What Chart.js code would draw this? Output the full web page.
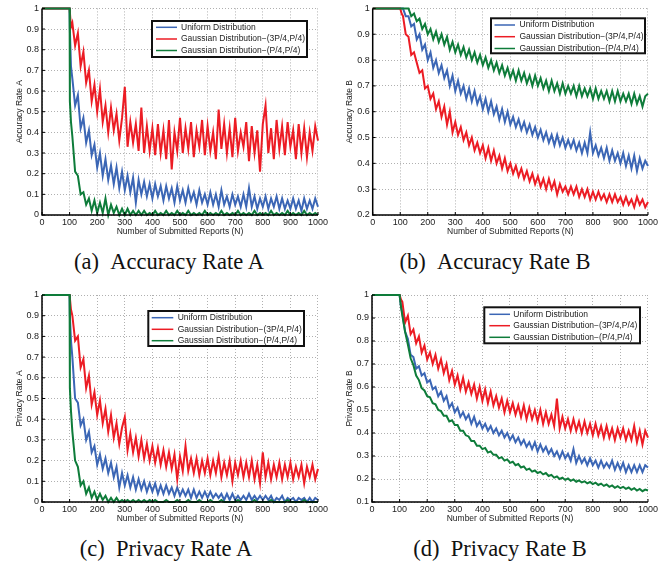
<!DOCTYPE html>
<html>
<head>
<meta charset="utf-8">
<script src="https://cdn.jsdelivr.net/npm/chart.js@4.4.1/dist/chart.umd.min.js"></script>
<style>
  body { margin: 0; background: #fff; width: 662px; height: 563px; position: relative; overflow: hidden; }
  .panel { position: absolute; width: 330px; }
  .cap { position: absolute; font-family: "Liberation Serif", serif; font-size: 22.5px; line-height: 26px;
         color: #111; white-space: nowrap; transform: translateX(-50%); }
</style>
</head>
<body>
<div class="panel" style="left:0;top:0;height:240px"><canvas id="accA"></canvas></div>
<div class="panel" style="left:330px;top:0;height:240px"><canvas id="accB"></canvas></div>
<div class="panel" style="left:0;top:280px;height:247px"><canvas id="privA"></canvas></div>
<div class="panel" style="left:330px;top:280px;height:247px"><canvas id="privB"></canvas></div>
<div class="cap" style="left:169px;top:249px">(a)&ensp;Accuracy Rate A</div>
<div class="cap" style="left:495px;top:249px">(b)&ensp;Accuracy Rate B</div>
<div class="cap" style="left:166px;top:536px">(c)&ensp;Privacy Rate A</div>
<div class="cap" style="left:500px;top:536px">(d)&ensp;Privacy Rate B</div>
<script>
// number of submitted reports (x values)
const reports = [0, 100, 101, 105,
  110, 120, 130, 140, 150, 160, 170, 180, 190, 200,
  210, 220, 230, 240, 250, 260, 270, 280, 290, 300,
  310, 320, 330, 340, 350, 360, 370, 380, 390, 400,
  410, 420, 430, 440, 450, 460, 470, 480, 490, 500,
  510, 520, 530, 540, 550, 560, 570, 580, 590, 600,
  610, 620, 630, 640, 650, 660, 670, 680, 690, 700,
  710, 720, 730, 740, 750, 760, 770, 780, 790, 800,
  810, 820, 830, 840, 850, 860, 870, 880, 890, 900,
  910, 920, 930, 940, 950, 960, 970, 980, 990, 1000];

const xTicks = [0, 100, 200, 300, 400, 500, 600, 700, 800, 900, 1000];
const yTicksFrom0 = [0, 0.1, 0.2, 0.3, 0.4, 0.5, 0.6, 0.7, 0.8, 0.9, 1];
const yTicksFrom02 = [0.2, 0.3, 0.4, 0.5, 0.6, 0.7, 0.8, 0.9, 1];
const yTicksFrom01 = [0.1, 0.2, 0.3, 0.4, 0.5, 0.6, 0.7, 0.8, 0.9, 1];

const seriesNames = ['Uniform Distribution', 'Gaussian Distribution\u2212(3P/4,P/4)', 'Gaussian Distribution\u2212(P/4,P/4)'];
const seriesColors = ['#3b66b5', '#ec1c24', '#0e7c3a'];

// (a) accuracy rate A
const accAUniform = [1, 1, 0.90, 0.72,
  0.66, 0.53, 0.58, 0.42, 0.47, 0.35, 0.41, 0.29, 0.34, 0.23,
  0.30, 0.19, 0.27, 0.17, 0.24, 0.15, 0.23, 0.13, 0.21, 0.12,
  0.19, 0.11, 0.18, 0.06, 0.17, 0.10, 0.16, 0.09, 0.15, 0.08,
  0.15, 0.09, 0.14, 0.07, 0.14, 0.08, 0.13, 0.06, 0.14, 0.07,
  0.12, 0.06, 0.13, 0.07, 0.11, 0.05, 0.12, 0.06, 0.10, 0.05,
  0.11, 0.05, 0.10, 0.04, 0.12, 0.05, 0.09, 0.04, 0.10, 0.05,
  0.09, 0.04, 0.10, 0.04, 0.13, 0.04, 0.09, 0.03, 0.08, 0.04,
  0.09, 0.03, 0.08, 0.04, 0.09, 0.03, 0.08, 0.03, 0.07, 0.03,
  0.08, 0.03, 0.07, 0.02, 0.08, 0.03, 0.07, 0.03, 0.08, 0.04];
const accAGauss3 = [1, 1, 1.00, 0.91,
  0.93, 0.82, 0.88, 0.72, 0.79, 0.64, 0.70, 0.55, 0.63, 0.50,
  0.61, 0.45, 0.53, 0.40, 0.52, 0.41, 0.49, 0.36, 0.47, 0.62,
  0.33, 0.45, 0.35, 0.44, 0.31, 0.52, 0.30, 0.43, 0.31, 0.42,
  0.29, 0.44, 0.30, 0.41, 0.27, 0.46, 0.22, 0.40, 0.31, 0.47,
  0.30, 0.42, 0.32, 0.45, 0.28, 0.41, 0.33, 0.46, 0.29, 0.43,
  0.31, 0.40, 0.27, 0.51, 0.32, 0.44, 0.30, 0.42, 0.28, 0.47,
  0.31, 0.40, 0.33, 0.45, 0.26, 0.43, 0.30, 0.41, 0.21, 0.44,
  0.53, 0.30, 0.42, 0.27, 0.46, 0.32, 0.43, 0.29, 0.45, 0.33,
  0.41, 0.27, 0.44, 0.30, 0.42, 0.28, 0.40, 0.31, 0.43, 0.36];
const accAGauss1 = [1, 1, 0.55, 0.45,
  0.38, 0.21, 0.19, 0.10, 0.11, 0.05, 0.08, 0.02, 0.07, 0.01,
  0.06, 0.01, 0.08, 0.00, 0.05, 0.01, 0.04, 0.00, 0.03, 0.00,
  0.03, 0.00, 0.02, 0.00, 0.02, 0.00, 0.02, 0.00, 0.01, 0.00,
  0.02, 0.00, 0.01, 0.00, 0.02, 0.00, 0.01, 0.00, 0.02, 0.00,
  0.01, 0.00, 0.02, 0.00, 0.01, 0.00, 0.01, 0.00, 0.02, 0.00,
  0.01, 0.00, 0.01, 0.00, 0.02, 0.00, 0.01, 0.00, 0.01, 0.00,
  0.02, 0.00, 0.01, 0.00, 0.01, 0.00, 0.02, 0.00, 0.01, 0.00,
  0.01, 0.00, 0.02, 0.00, 0.01, 0.00, 0.01, 0.00, 0.02, 0.00,
  0.01, 0.00, 0.01, 0.00, 0.02, 0.00, 0.01, 0.00, 0.01, 0.00];

// (b) accuracy rate B
const accBUniform = [1, 1, 1.00, 1.00,
  1.00, 0.97, 0.97, 0.93, 0.94, 0.88, 0.90, 0.84, 0.86, 0.80,
  0.83, 0.77, 0.80, 0.75, 0.78, 0.73, 0.76, 0.70, 0.74, 0.68,
  0.72, 0.67, 0.70, 0.65, 0.69, 0.64, 0.68, 0.63, 0.66, 0.61,
  0.65, 0.60, 0.64, 0.59, 0.62, 0.57, 0.61, 0.56, 0.60, 0.55,
  0.58, 0.54, 0.57, 0.53, 0.56, 0.52, 0.55, 0.51, 0.54, 0.50,
  0.53, 0.49, 0.52, 0.48, 0.51, 0.47, 0.51, 0.47, 0.50, 0.46,
  0.49, 0.46, 0.49, 0.45, 0.48, 0.44, 0.48, 0.44, 0.52, 0.44,
  0.47, 0.43, 0.46, 0.42, 0.46, 0.41, 0.45, 0.41, 0.44, 0.40,
  0.44, 0.39, 0.43, 0.38, 0.43, 0.37, 0.42, 0.38, 0.41, 0.39];
const accBGauss3 = [1, 1, 1.00, 0.98,
  0.97, 0.90, 0.89, 0.82, 0.83, 0.79, 0.75, 0.76, 0.69, 0.70,
  0.65, 0.67, 0.61, 0.64, 0.58, 0.62, 0.55, 0.60, 0.52, 0.56,
  0.51, 0.54, 0.49, 0.52, 0.47, 0.50, 0.45, 0.48, 0.44, 0.47,
  0.42, 0.46, 0.41, 0.45, 0.40, 0.43, 0.38, 0.42, 0.37, 0.40,
  0.36, 0.39, 0.35, 0.38, 0.34, 0.37, 0.33, 0.36, 0.32, 0.35,
  0.31, 0.34, 0.30, 0.34, 0.30, 0.33, 0.28, 0.32, 0.29, 0.31,
  0.28, 0.31, 0.28, 0.31, 0.27, 0.30, 0.27, 0.30, 0.26, 0.29,
  0.26, 0.29, 0.26, 0.28, 0.25, 0.28, 0.25, 0.28, 0.25, 0.27,
  0.24, 0.27, 0.24, 0.26, 0.23, 0.27, 0.24, 0.26, 0.23, 0.25];
const accBGauss1 = [1, 1, 1.00, 1.00,
  1.00, 1.00, 1.00, 0.97, 0.98, 0.95, 0.96, 0.92, 0.94, 0.90,
  0.92, 0.88, 0.91, 0.87, 0.90, 0.86, 0.89, 0.84, 0.87, 0.83,
  0.86, 0.82, 0.85, 0.81, 0.84, 0.80, 0.83, 0.79, 0.82, 0.78,
  0.81, 0.77, 0.80, 0.76, 0.79, 0.75, 0.78, 0.74, 0.77, 0.73,
  0.76, 0.72, 0.76, 0.72, 0.75, 0.71, 0.74, 0.70, 0.74, 0.70,
  0.73, 0.69, 0.72, 0.68, 0.72, 0.68, 0.71, 0.67, 0.71, 0.67,
  0.70, 0.67, 0.70, 0.66, 0.70, 0.66, 0.69, 0.66, 0.69, 0.65,
  0.69, 0.65, 0.68, 0.65, 0.68, 0.64, 0.68, 0.64, 0.68, 0.64,
  0.67, 0.64, 0.67, 0.63, 0.67, 0.63, 0.66, 0.62, 0.66, 0.67];

// (c) privacy rate A
const privAUniform = [1, 1, 0.90, 0.78,
  0.70, 0.50, 0.48, 0.37, 0.40, 0.30, 0.34, 0.24, 0.27, 0.18,
  0.23, 0.16, 0.21, 0.14, 0.19, 0.12, 0.17, 0.07, 0.14, 0.08,
  0.13, 0.07, 0.12, 0.06, 0.11, 0.06, 0.10, 0.05, 0.09, 0.05,
  0.09, 0.04, 0.08, 0.04, 0.08, 0.04, 0.07, 0.03, 0.07, 0.03,
  0.06, 0.03, 0.06, 0.02, 0.06, 0.02, 0.05, 0.02, 0.05, 0.02,
  0.05, 0.02, 0.04, 0.02, 0.04, 0.01, 0.04, 0.01, 0.04, 0.01,
  0.03, 0.01, 0.03, 0.01, 0.04, 0.01, 0.03, 0.01, 0.03, 0.01,
  0.03, 0.01, 0.03, 0.00, 0.02, 0.01, 0.03, 0.00, 0.02, 0.01,
  0.02, 0.00, 0.02, 0.01, 0.02, 0.00, 0.02, 0.00, 0.02, 0.01];
const privAGauss3 = [1, 1, 1.00, 0.93,
  0.90, 0.78, 0.80, 0.65, 0.69, 0.55, 0.61, 0.47, 0.53, 0.42,
  0.49, 0.38, 0.45, 0.34, 0.42, 0.31, 0.38, 0.28, 0.36, 0.41,
  0.25, 0.33, 0.24, 0.31, 0.22, 0.30, 0.21, 0.28, 0.20, 0.27,
  0.19, 0.26, 0.18, 0.25, 0.17, 0.24, 0.16, 0.23, 0.11, 0.22,
  0.15, 0.27, 0.15, 0.21, 0.14, 0.21, 0.13, 0.20, 0.14, 0.21,
  0.13, 0.20, 0.14, 0.22, 0.12, 0.19, 0.13, 0.20, 0.10, 0.19,
  0.13, 0.20, 0.12, 0.19, 0.12, 0.20, 0.11, 0.18, 0.09, 0.24,
  0.12, 0.19, 0.11, 0.18, 0.12, 0.19, 0.11, 0.18, 0.12, 0.19,
  0.11, 0.17, 0.12, 0.18, 0.09, 0.17, 0.12, 0.18, 0.11, 0.16];
const privAGauss1 = [1, 1, 0.55, 0.44,
  0.34, 0.20, 0.17, 0.08, 0.10, 0.04, 0.07, 0.02, 0.05, 0.01,
  0.04, 0.01, 0.03, 0.00, 0.02, 0.00, 0.02, 0.00, 0.01, 0.00,
  0.01, 0.00, 0.01, 0.00, 0.01, 0.00, 0.01, 0.00, 0.01, 0.00,
  0.01, 0.00, 0.00, 0.00, 0.01, 0.00, 0.00, 0.00, 0.01, 0.00,
  0.00, 0.00, 0.01, 0.00, 0.00, 0.00, 0.01, 0.00, 0.00, 0.00,
  0.01, 0.00, 0.00, 0.00, 0.01, 0.00, 0.00, 0.00, 0.00, 0.00,
  0.01, 0.00, 0.00, 0.00, 0.00, 0.00, 0.01, 0.00, 0.00, 0.00,
  0.00, 0.00, 0.01, 0.00, 0.00, 0.00, 0.00, 0.00, 0.01, 0.00,
  0.00, 0.00, 0.00, 0.00, 0.01, 0.00, 0.00, 0.00, 0.00, 0.00];

// (d) privacy rate B
const privBUniform = [1, 1, 0.99, 0.95,
  0.92, 0.84, 0.81, 0.74, 0.73, 0.68, 0.69, 0.65, 0.66, 0.62,
  0.63, 0.59, 0.60, 0.56, 0.58, 0.54, 0.56, 0.51, 0.53, 0.49,
  0.51, 0.47, 0.49, 0.46, 0.48, 0.44, 0.47, 0.43, 0.45, 0.42,
  0.44, 0.41, 0.43, 0.40, 0.42, 0.39, 0.41, 0.38, 0.40, 0.37,
  0.39, 0.36, 0.38, 0.35, 0.37, 0.34, 0.36, 0.33, 0.36, 0.32,
  0.35, 0.32, 0.34, 0.31, 0.33, 0.30, 0.32, 0.29, 0.32, 0.29,
  0.31, 0.28, 0.33, 0.27, 0.30, 0.27, 0.29, 0.26, 0.29, 0.26,
  0.28, 0.25, 0.28, 0.25, 0.27, 0.25, 0.28, 0.24, 0.27, 0.24,
  0.27, 0.23, 0.26, 0.23, 0.26, 0.23, 0.26, 0.23, 0.26, 0.25];
const privBGauss3 = [1, 1, 1.00, 0.98,
  0.97, 0.88, 0.91, 0.83, 0.85, 0.79, 0.82, 0.75, 0.78, 0.72,
  0.75, 0.70, 0.74, 0.68, 0.72, 0.66, 0.70, 0.63, 0.67, 0.61,
  0.65, 0.59, 0.64, 0.58, 0.62, 0.57, 0.61, 0.55, 0.60, 0.54,
  0.59, 0.53, 0.58, 0.52, 0.56, 0.51, 0.55, 0.49, 0.54, 0.49,
  0.53, 0.48, 0.52, 0.47, 0.52, 0.46, 0.51, 0.46, 0.50, 0.45,
  0.50, 0.44, 0.49, 0.44, 0.48, 0.43, 0.55, 0.42, 0.47, 0.42,
  0.46, 0.41, 0.46, 0.41, 0.45, 0.40, 0.45, 0.40, 0.44, 0.39,
  0.44, 0.39, 0.43, 0.38, 0.43, 0.38, 0.42, 0.37, 0.42, 0.38,
  0.42, 0.37, 0.41, 0.37, 0.43, 0.36, 0.41, 0.35, 0.41, 0.38];
const privBGauss1 = [1, 1, 0.99, 0.95,
  0.91, 0.84, 0.785, 0.725, 0.695, 0.65, 0.63, 0.595, 0.585, 0.56,
  0.555, 0.53, 0.525, 0.50, 0.495, 0.475, 0.475, 0.45, 0.455, 0.435,
  0.435, 0.41, 0.41, 0.39, 0.385, 0.365, 0.365, 0.345, 0.345, 0.33,
  0.335, 0.315, 0.32, 0.305, 0.305, 0.29, 0.295, 0.28, 0.285, 0.27,
  0.275, 0.26, 0.265, 0.25, 0.255, 0.24, 0.245, 0.232, 0.237, 0.226,
  0.231, 0.22, 0.226, 0.213, 0.218, 0.206, 0.211, 0.20, 0.206, 0.196,
  0.202, 0.192, 0.198, 0.188, 0.194, 0.185, 0.19, 0.181, 0.187, 0.178,
  0.184, 0.174, 0.18, 0.17, 0.176, 0.166, 0.172, 0.162, 0.169, 0.16,
  0.166, 0.157, 0.163, 0.153, 0.16, 0.15, 0.157, 0.147, 0.154, 0.15];

const FONT = '"Liberation Sans", Arial, sans-serif';

// MATLAB style: solid left/bottom axes with short inward ticks
const matlabAxes = {
  id: 'matlabAxes',
  afterDatasetsDraw(chart) {
    const { ctx, chartArea: a, scales: { x, y } } = chart;
    ctx.save();
    ctx.strokeStyle = '#000';
    ctx.lineWidth = 1;
    ctx.beginPath();
    x.ticks.forEach(t => {
      const p = x.getPixelForValue(t.value);
      ctx.moveTo(p, a.bottom); ctx.lineTo(p, a.bottom - 3);
    });
    y.ticks.forEach(t => {
      const p = y.getPixelForValue(t.value);
      ctx.moveTo(a.left, p); ctx.lineTo(a.left + 3, p);
    });
    ctx.stroke();
    ctx.lineWidth = 1.5;
    ctx.beginPath();
    ctx.moveTo(a.left, a.top); ctx.lineTo(a.left, a.bottom); ctx.lineTo(a.right, a.bottom);
    ctx.stroke();
    ctx.restore();
  }
};

// framed legend box
const boxLegend = {
  id: 'boxLegend',
  afterDraw(chart, args, o) {
    const ctx = chart.ctx;
    ctx.save();
    ctx.fillStyle = '#fff';
    ctx.fillRect(o.x, o.y, o.w, o.h);
    ctx.lineWidth = 2;
    ctx.strokeStyle = '#111';
    ctx.strokeRect(o.x, o.y, o.w, o.h);
    ctx.font = '8.5px ' + FONT;
    ctx.textBaseline = 'middle';
    chart.data.datasets.forEach((ds, i) => {
      const yy = o.rows[i];
      ctx.strokeStyle = ds.borderColor;
      ctx.lineWidth = 1.5;
      ctx.beginPath(); ctx.moveTo(o.x0, yy); ctx.lineTo(o.x1, yy); ctx.stroke();
      ctx.fillStyle = '#222';
      ctx.fillText(ds.label, o.tx, yy);
    });
    ctx.restore();
  }
};

function toPoints(vals) {
  return vals.map((v, i) => ({ x: reports[i], y: v }));
}

function makeChart(id, series, yTitle, yTicks, cfg) {
  const order = [3, 2, 1];
  new Chart(document.getElementById(id), {
    type: 'line',
    data: {
      datasets: series.map((vals, i) => ({
        label: seriesNames[i],
        data: toPoints(vals),
        borderColor: seriesColors[i],
        borderWidth: 2,
        pointRadius: 0,
        tension: 0,
        clip: false,
        order: order[i]
      }))
    },
    options: {
      responsive: true,
      maintainAspectRatio: false,
      animation: false,
      events: [],
      layout: { padding: { top: cfg.top, right: 11, left: 0, bottom: 0 } },
      plugins: {
        legend: { display: false },
        tooltip: { enabled: false },
        boxLegend: cfg.legend
      },
      scales: {
        x: {
          type: 'linear',
          min: 0, max: 1000,
          afterBuildTicks: s => { s.ticks = xTicks.map(v => ({ value: v })); },
          afterFit: s => { s.height = 25; },
          ticks: { autoSkip: false, maxRotation: 0, padding: 2, color: '#222', font: { family: FONT, size: 9 }, callback: v => String(v) },
          grid: { color: '#b0b0b0', lineWidth: 1, drawTicks: false },
          border: { display: false, dash: [1, 2] },
          title: { display: true, text: 'Number of Submitted Reports (N)', color: '#222', font: { family: FONT, size: 8.5 }, padding: { top: 0, bottom: 3 } }
        },
        y: {
          min: yTicks[0], max: 1,
          afterBuildTicks: s => { s.ticks = yTicks.map(v => ({ value: v })); },
          afterFit: s => { s.width = cfg.yw; },
          ticks: { padding: 3, color: '#222', font: { family: FONT, size: 9 }, callback: v => String(v) },
          grid: { color: '#b0b0b0', lineWidth: 1, drawTicks: false },
          border: { display: false, dash: [1, 2] },
          title: { display: true, text: yTitle, color: '#222', font: { family: FONT, size: 8.5 }, padding: { top: 15, bottom: 0 } }
        }
      }
    },
    plugins: [matlabAxes, boxLegend]
  });
}

makeChart('accA', [accAUniform, accAGauss3, accAGauss1], 'Accuracy Rate A', yTicksFrom0, {
  top: 7.5, yw: 42,
  legend: { x: 152, y: 21, w: 155, h: 36, rows: [27.3, 39, 50.5], x0: 156, x1: 177, tx: 181 }
});
makeChart('accB', [accBUniform, accBGauss3, accBGauss1], 'Accuracy Rate B', yTicksFrom02, {
  top: 7.5, yw: 42.7,
  legend: { x: 161, y: 18.3, w: 154, h: 35, rows: [25, 36.7, 48.5], x0: 164.5, x1: 185, tx: 189.5 }
});
makeChart('privA', [privAUniform, privAGauss3, privAGauss1], 'Privacy Rate A', yTicksFrom0, {
  top: 15, yw: 42,
  legend: { x: 148.3, y: 31, w: 155.7, h: 35, rows: [37.7, 49.3, 60.7], x0: 151.7, x1: 173.3, tx: 177.7 }
});
makeChart('privB', [privBUniform, privBGauss3, privBGauss1], 'Privacy Rate B', yTicksFrom01, {
  top: 15, yw: 42,
  legend: { x: 154.3, y: 27.3, w: 155.7, h: 36, rows: [34.3, 45.7, 57.3], x0: 159.3, x1: 180, tx: 183.3 }
});
</script>
</body>
</html>
